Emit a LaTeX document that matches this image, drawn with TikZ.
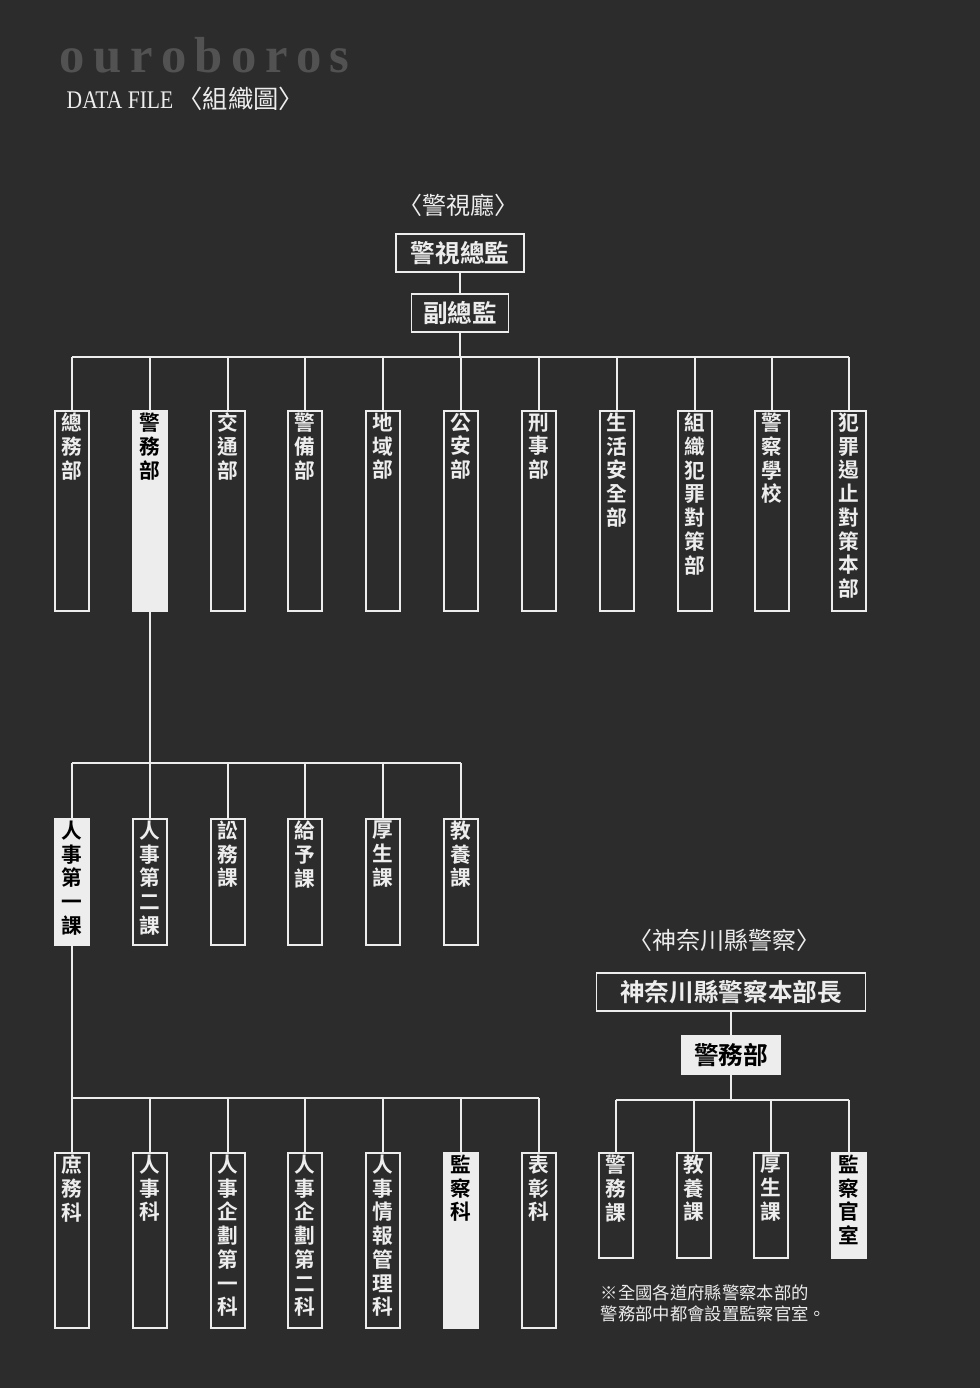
\documentclass[tikz,border=0pt]{standalone}
\usepackage{fontspec}
\setmainfont{Liberation Serif}
\newfontfamily\cjk{Noto Sans CJK TC}
\newfontfamily\cjkb{Noto Sans CJK TC}[BoldFont={* Bold}]
\usetikzlibrary{positioning}
\definecolor{bgdark}{HTML}{2C2C2C}
\definecolor{ink}{HTML}{EDEDED}
\tikzset{
  line/.style={draw=ink,line width=1.3pt},
  dept/.style={line,minimum width=34*0.75pt,minimum height=#1*0.75pt,anchor=north,inner sep=0pt},
  lbl/.style={anchor=north,inner sep=0pt,yshift=-2pt,align=center,font=\cjkb\bfseries\fontsize{15.5}{17.8}\selectfont},
  head/.style={line,inner sep=2pt,minimum height=28.5pt,font=\cjkb\bfseries\fontsize{18.5}{22}\selectfont,text=ink},
  white/.style={fill=ink}
}
\begin{document}
\begin{tikzpicture}[x=0.75pt,y=-0.75pt]
\useasboundingbox[fill=bgdark] (0,0) rectangle (980,1388);
% titles
\node[anchor=west,text=gray!45!bgdark,font=\fontsize{38}{38}\selectfont\bfseries] (logo) at (55,55) {o\,u\,r\,o\,b\,o\,r\,o\,s};
\node[anchor=west,text=ink,font=\fontsize{19}{20}\selectfont] (title) at (62,99) {\scalebox{0.85}[1]{DATA FILE}\,{\cjk〈組織圖〉}};

% 警視廳
\node[text=ink,font=\cjk\fontsize{18}{20}\selectfont] (mpdname) at (458,205) {〈警視廳〉};
\node[head,minimum width=128*0.75pt] (chief) at (460,253) {警視總監};
\node[head,minimum width=97*0.75pt] (deputy) at (460,313) {副總監};
\draw[line] (chief) -- (deputy);
\coordinate (bus1) at (460,357);
\draw[line] (deputy) -- (bus1);
\draw[line] (72,357) -- (849,357);
\foreach \n/\x/\t/\f in {d1/72/{總\\務\\部}/, d2/150/{警\\務\\部}/white, d3/228/{交\\通\\部}/, d4/305/{警\\備\\部}/,
  d5/383/{地\\域\\部}/, d6/461/{公\\安\\部}/, d7/539/{刑\\事\\部}/, d8/617/{生\\活\\安\\全\\部}/,
  d9/695/{組\\織\\犯\\罪\\對\\策\\部}/, d10/772/{警\\察\\學\\校}/, d11/849/{犯\\罪\\遏\\止\\對\\策\\本\\部}/}{
  \node[dept=200,\f] (\n) at (\x,410) {};
  \node[lbl,text=\ifx\f\empty ink\else black\fi] at (\n.north) {\t};
  \draw[line] (\x,357) -- (\n.north);
}

% 警務部 sections
\draw[line] (d2.south) -- (150,763);
\draw[line] (72,763) -- (461,763);
\foreach \n/\x/\t/\f in {s1/72/{人\\事\\第\\一\\課}/white, s2/150/{人\\事\\第\\二\\課}/, s3/228/{訟\\務\\課}/,
  s4/305/{給\\予\\課}/, s5/383/{厚\\生\\課}/, s6/461/{教\\養\\課}/}{
  \node[dept=126,\f] (\n) at (\x,818) {};
  \node[lbl,text=\ifx\f\empty ink\else black\fi] at (\n.north) {\t};
  \draw[line] (\x,763) -- (\n.north);
}

% 人事第一課 units
\draw[line] (s1.south) -- (72,1098);
\draw[line] (72,1098) -- (539,1098);
\foreach \n/\x/\t/\f in {u1/72/{庶\\務\\科}/, u2/150/{人\\事\\科}/, u3/228/{人\\事\\企\\劃\\第\\一\\科}/,
  u4/305/{人\\事\\企\\劃\\第\\二\\科}/, u5/383/{人\\事\\情\\報\\管\\理\\科}/, u6/461/{監\\察\\科}/white, u7/539/{表\\彰\\科}/}{
  \node[dept=175,\f] (\n) at (\x,1152) {};
  \node[lbl,text=\ifx\f\empty ink\else black\fi] at (\n.north) {\t};
  \draw[line] (\x,1098) -- (\n.north);
}

% 神奈川縣警察
\node[text=ink,font=\cjk\fontsize{18}{20}\selectfont] (kpname) at (724,940) {〈神奈川縣警察〉};
\node[head,minimum width=269*0.75pt] (kchief) at (731,992) {神奈川縣警察本部長};
\node[head,white,text=black,minimum width=99*0.75pt] (kdiv) at (731,1055) {警務部};
\draw[line] (kchief) -- (kdiv);
\draw[line] (kdiv) -- (731,1100);
\draw[line] (616,1100) -- (849,1100);
\foreach \n/\x/\t/\f in {k1/616/{警\\務\\課}/, k2/694/{教\\養\\課}/, k3/771/{厚\\生\\課}/, k4/849/{監\\察\\官\\室}/white}{
  \node[dept=105,\f] (\n) at (\x,1152) {};
  \node[lbl,text=\ifx\f\empty ink\else black\fi] at (\n.north) {\t};
  \draw[line] (\x,1100) -- (\n.north);
}
\node[anchor=north west,text=ink,align=left,font=\cjk\fontsize{13}{16}\selectfont] (note) at (596,1280)
  {※全國各道府縣警察本部的\\警務部中都會設置監察官室。};
\end{tikzpicture}
\end{document}
